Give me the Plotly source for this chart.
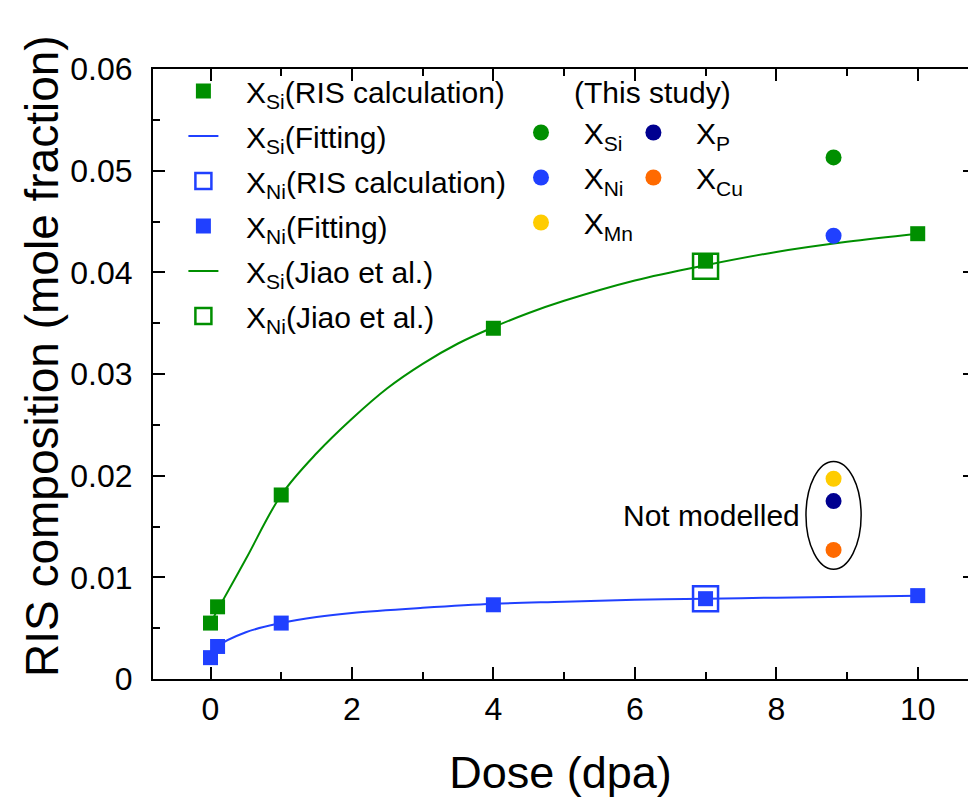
import plotly.graph_objects as go

# ---------------- data ----------------
dose_ris = [0, 0.1, 1, 4, 7, 10]
si_ris = [0.0055, 0.0071, 0.0181, 0.0345, 0.0411, 0.0438]
ni_ris = [0.0021, 0.0032, 0.0055, 0.0073, 0.0079, 0.0082]

dose_fit_si = [0, 0.1, 0.5, 1, 1.5, 2, 2.5, 3, 3.5, 4, 4.5, 5, 6, 7, 8, 9, 10]
si_fit = [0.0055, 0.0068, 0.0118, 0.0181, 0.0222, 0.0256, 0.0286, 0.0310, 0.0330,
          0.0346, 0.0360, 0.0372, 0.0392, 0.0407, 0.0420, 0.0430, 0.0438]
dose_fit_ni = [0, 0.1, 0.5, 1, 1.5, 2, 3, 4, 5, 6, 7, 8, 9, 10]
ni_fit = [0.0022, 0.0032, 0.0046, 0.0055, 0.0061, 0.0065, 0.0070, 0.0074,
          0.0076, 0.0078, 0.0079, 0.0080, 0.0081, 0.0082]

dose_jiao = [7]
si_jiao = [0.0406]
ni_jiao = [0.0079]

dose_study = [8.81]
study_si = [0.0513]
study_ni = [0.0436]
study_mn = [0.0197]
study_p = [0.0175]
study_cu = [0.0127]

x_ticks = [0, 2, 4, 6, 8, 10]
y_ticks = [0, 0.01, 0.02, 0.03, 0.04, 0.05, 0.06]
y_tick_text = ["0", "0.01", "0.02", "0.03", "0.04", "0.05", "0.06"]

GREEN = "#008f00"
BLUE = "#2040ff"
YELLOW = "#ffcc00"
NAVY = "#000090"
ORANGE = "#ff6a00"
FONT = "Liberation Sans, Arial, sans-serif"
SP = "\u00a0\u00a0\u2009"
LEG_SIZE = 30

PW = 815.0  # plot-area width in px (153 .. 968)
PH = 610.0  # plot-area height in px (69 .. 679)

fig = go.Figure()

# fitting lines (drawn first, under markers)
fig.add_trace(go.Scatter(x=dose_fit_ni, y=ni_fit, mode="lines", line=dict(color=BLUE, width=2, shape="spline"),
                         name=SP + "X<sub>Si</sub>(Fitting)", legendrank=2, legendgroup="g2"))
fig.add_trace(go.Scatter(x=dose_fit_si, y=si_fit, mode="lines", line=dict(color=GREEN, width=2, shape="spline"),
                         name=SP + "X<sub>Si</sub>(Jiao et al.)", legendrank=5, legendgroup="g5"))

fig.add_trace(go.Scatter(x=dose_ris, y=si_ris, mode="markers",
                         marker=dict(symbol="square", size=15, color=GREEN),
                         name=SP + "X<sub>Si</sub>(RIS calculation)", legendrank=1, legendgroup="g1"))
fig.add_trace(go.Scatter(x=dose_jiao, y=ni_jiao, mode="markers",
                         marker=dict(symbol="square-open", size=25, color=BLUE, line=dict(width=2.5)),
                         name=SP + "X<sub>Ni</sub>(RIS calculation)", legendrank=3, legendgroup="g3"))
fig.add_trace(go.Scatter(x=dose_ris, y=ni_ris, mode="markers",
                         marker=dict(symbol="square", size=15, color=BLUE),
                         name=SP + "X<sub>Ni</sub>(Fitting)", legendrank=4, legendgroup="g4"))
fig.add_trace(go.Scatter(x=dose_jiao, y=si_jiao, mode="markers",
                         marker=dict(symbol="square-open", size=25, color=GREEN, line=dict(width=2.5)),
                         name=SP + "X<sub>Ni</sub>(Jiao et al.)", legendrank=6, legendgroup="g6"))

# this study
for yv, col, nm, lg, rk in [
    (study_si, GREEN, "X<sub>Si</sub>", "legend2", 1),
    (study_ni, BLUE, "X<sub>Ni</sub>", "legend2", 2),
    (study_mn, YELLOW, "X<sub>Mn</sub>", "legend2", 3),
    (study_p, NAVY, "X<sub>P</sub>", "legend3", 1),
    (study_cu, ORANGE, "X<sub>Cu</sub>", "legend3", 2),
]:
    fig.add_trace(go.Scatter(x=dose_study, y=yv, mode="markers",
                             marker=dict(symbol="circle", size=16, color=col),
                             name=SP + nm, legend=lg, legendrank=rk, legendgroup=lg + str(rk)))

# invisible helper trace so the right-hand tick axis is drawn
fig.add_trace(go.Scatter(x=[None], y=[None], yaxis="y2", showlegend=False, hoverinfo="skip"))

axis_common = dict(
    showline=True, linecolor="black", linewidth=2,
    ticks="inside", ticklen=12, tickwidth=2, tickcolor="black",
    showgrid=False, zeroline=False,
    tickfont=dict(family=FONT, size=32, color="black"),
)

leg_common = dict(xanchor="left", yanchor="top", bgcolor="rgba(0,0,0,0)",
                  font=dict(family=FONT, size=LEG_SIZE), traceorder="grouped", tracegroupgap=3)

fig.update_layout(
    width=968, height=798,
    margin=dict(l=153, r=0, t=69, b=119),
    paper_bgcolor="white", plot_bgcolor="white",
    font=dict(family=FONT, color="black"),
    showlegend=True,
    xaxis=dict(range=[-0.813, 10.711], tickvals=x_ticks, mirror="ticks",
               minor=dict(dtick=1, ticks="inside", ticklen=7, tickwidth=2, tickcolor="black"),
               ticklabelstandoff=1,
               title=dict(text="Dose (dpa)", font=dict(family=FONT, size=45), standoff=39),
               **axis_common),
    yaxis=dict(range=[0, 0.06], tickvals=y_ticks, ticktext=y_tick_text, mirror=False,
               minor=dict(dtick=0.005, ticks="inside", ticklen=7, tickwidth=2, tickcolor="black"),
               ticklabelstandoff=12,
               **axis_common),
    yaxis2=dict(range=[0, 0.06], tickvals=y_ticks, overlaying="y", side="right",
                showline=False, showgrid=False, zeroline=False, showticklabels=False,
                ticks="inside", ticklen=5, tickwidth=2, tickcolor="black"),
    legend=dict(x=(183.4 - 153) / PW, y=1.0066, **leg_common),
    legend2=dict(x=(521 - 153) / PW, y=0.9385, **leg_common),
    legend3=dict(x=(633.4 - 153) / PW, y=0.9385, **leg_common),
    shapes=[dict(type="circle", xref="x", yref="y", x0=8.42, x1=9.2, y0=0.0108, y1=0.0214,
                 line=dict(color="black", width=1.5), layer="below")],
    annotations=[
        dict(text="RIS composition (mole fraction)", xref="paper", yref="paper",
             x=(42 - 153) / PW, y=(679 - 356) / PH, xanchor="center", yanchor="middle",
             textangle=-90, showarrow=False, font=dict(family=FONT, size=46)),
        dict(text="(This study)", xref="paper", yref="paper", x=(572 - 153) / PW, y=(679 - 93) / PH,
             xanchor="left", yanchor="middle", showarrow=False, font=dict(family=FONT, size=LEG_SIZE)),
        dict(text="Not modelled", xref="x", yref="y", x=8.36, y=0.0161, xanchor="right", yanchor="middle",
             showarrow=False, font=dict(family=FONT, size=30)),
    ],
)

fig.write_html("out.html")
